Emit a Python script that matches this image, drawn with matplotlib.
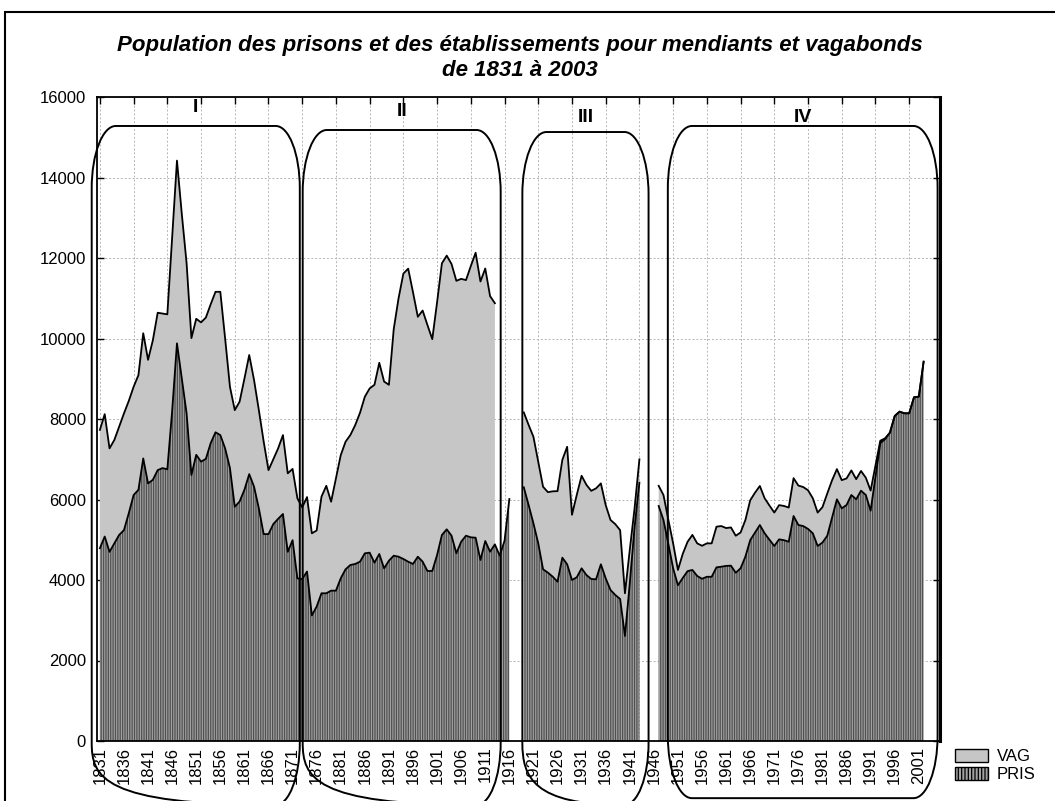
import numpy as np
import matplotlib
matplotlib.use('Agg')
import matplotlib.pyplot as plt
from matplotlib.path import Path
from matplotlib.patches import PathPatch, Patch, Rectangle

plt.rcParams['font.family'] = ['Liberation Sans', 'DejaVu Sans']
plt.rcParams['hatch.linewidth'] = 0.9

nan = np.nan
years = np.arange(1831, 2003)

# PRIS (prisons), une valeur par an, 1831-2002
pris = [
    4790, 5080, 4700, 4910, 5120, 5240, 5660, 6110, 6240, 7020,   # 1831-1840
    6400, 6490, 6730, 6780, 6750, 8200, 9880, 9000, 8140, 6610,   # 1841-1850
    7110, 6940, 7010, 7400, 7670, 7600, 7270, 6780, 5820, 5950,   # 1851-1860
    6240, 6630, 6320, 5780, 5140, 5140, 5390, 5520, 5640, 4700,   # 1861-1870
    4990, 4040, 4025, 4210, 3120, 3340, 3670, 3670, 3735, 3735,   # 1871-1880
    4042, 4266, 4373, 4398, 4455, 4663, 4679, 4430, 4646, 4290,   # 1881-1890
    4480, 4604, 4579, 4522, 4455, 4398, 4579, 4455, 4224, 4224,   # 1891-1900
    4621, 5118, 5259, 5101, 4663, 4952, 5101, 5060, 5051, 4497,   # 1901-1910
    4969, 4703, 4886, 4604, 4977, 6012, nan, nan, 6303, 5863,     # 1911-1920
    5408, 4911, 4266, 4183, 4083, 3958, 4555, 4390, 4000, 4067,   # 1921-1930
    4290, 4124, 4025, 4017, 4390, 4042, 3752, 3627, 3528, 2609,   # 1931-1940
    3918, 5325, 6418, nan, nan, nan, 5840, 5490, 4900, 4290,      # 1941-1950
    3870, 4050, 4220, 4250, 4100, 4030, 4080, 4080, 4315, 4330,   # 1951-1960
    4350, 4356, 4180, 4290, 4580, 4990, 5180, 5366, 5160, 5000,   # 1961-1970
    4845, 5010, 4990, 4950, 5590, 5366, 5340, 5270, 5160, 4845,   # 1971-1980
    4930, 5100, 5550, 6005, 5781, 5863, 6112, 6005, 6219, 6112,   # 1981-1990
    5722, 6560, 7400, 7500, 7660, 8075, 8183, 8142, 8142, 8539,   # 1991-2000
    8556, 9424,                                                   # 2001-2002
]

# VAG (mendiants et vagabonds)
vag = [
    2940, 3040, 2570, 2570, 2690, 2900, 2790, 2690, 2850, 3110,
    3070, 3470, 3910, 3840, 3850, 4300, 4540, 4100, 3730, 3400,
    3380, 3460, 3510, 3450, 3490, 3560, 2730, 2020, 2400, 2480,
    2760, 2960, 2650, 2440, 2300, 1590, 1610, 1750, 1960, 1950,
    1770, 1990, 1780, 1850, 2040, 1890, 2400, 2670, 2210, 2790,
    3060, 3170, 3230, 3450, 3700, 3890, 4080, 4420, 4750, 4640,
    4370, 5630, 6420, 7090, 7280, 6750, 5960, 6240, 6110, 5760,
    6280, 6750, 6800, 6750, 6770, 6530, 6350, 6740, 7080, 6920,
    6770, 6350, 5990, nan, nan, nan, nan, nan, 1860, 1990,
    2150, 2030, 2050, 2000, 2120, 2250, 2430, 2920, 1620, 2050,
    2300, 2240, 2190, 2260, 2010, 1820, 1740, 1760, 1710, 1060,
    830, 460, 580, nan, nan, nan, 500, 620, 600, 620,
    380, 600, 730, 870, 810, 820, 830, 830, 1010, 1010,
    940, 950, 920, 890, 910, 990, 990, 970, 870, 850,
    830, 850, 850, 850, 940, 980, 970, 960, 870, 830,
    880, 1050, 930, 750, 700, 660, 610, 500, 490, 430,
    500, 280, 60, 20, 0, 0, 0, 0, 0, 0,
    0, 0,
]

label_years = np.arange(1831, 2002, 5)
periods = ['I', 'II', 'III', 'IV']
period_start = [1829.3, 1873.1, 1918.7, 1948.9]
period_end = [1872.5, 1914.2, 1944.9, 2004.9]

pris = np.array(pris, dtype=float)
vag = np.array(vag, dtype=float)
total = pris + vag

col_pris = '#a2a2a2'
col_vag = '#c6c6c6'

fig = plt.figure(figsize=(10.55, 8.01), dpi=100)
ax = fig.add_axes([97 / 1055, 60 / 801, 843 / 1055, 644 / 801])

ax.fill_between(years, 0, pris, facecolor=col_pris, edgecolor='#505050',
                linewidth=0, hatch='|||||||', zorder=2)
ax.fill_between(years, pris, total, facecolor=col_vag, edgecolor=col_vag,
                linewidth=0, zorder=2)
ax.plot(years, pris, color='black', lw=1.3, zorder=3)
ax.plot(years, total, color='black', lw=1.3, zorder=3)

ax.set_xlim(1830.4, 2005.4)
ax.set_ylim(0, 16000)

# étiquettes tous les 5 ans, grille et repères du haut tous les 7 ans
ax.xaxis.remove_overlapping_locs = False
ax.set_xticks(label_years, [str(y) for y in label_years])
ax.set_xticks(np.arange(1831, 2005, 7), minor=True)
ax.tick_params(axis='x', which='major', bottom=True, length=0,
               labelbottom=True, labelsize=12, labelrotation=90, pad=4)
ax.tick_params(axis='x', which='minor', top=True, bottom=False,
               direction='in', length=5, width=1)
ax.set_yticks(np.arange(0, 16001, 2000))
ax.tick_params(axis='y', left=True, right=True, direction='in', length=5,
               width=1, labelsize=12, pad=8)
ax.grid(True, axis='x', which='minor', color='#b5b5b5',
        linestyle=(0, (2, 2)), lw=0.7)
ax.grid(True, axis='y', which='major', color='#b5b5b5',
        linestyle=(0, (2, 2)), lw=0.7)
ax.set_axisbelow(True)
for s in ax.spines.values():
    s.set_linewidth(1.3)
ax.spines['right'].set_linewidth(2.2)


def rounded_box(x0, x1, y0, y1, rx, ry):
    k = 0.5523
    verts = [
        (x0 + rx, y1), (x1 - rx, y1),
        (x1 - rx + k * rx, y1), (x1, y1 - ry + k * ry), (x1, y1 - ry),
        (x1, y0 + ry),
        (x1, y0 + ry - k * ry), (x1 - rx + k * rx, y0), (x1 - rx, y0),
        (x0 + rx, y0),
        (x0 + rx - k * rx, y0), (x0, y0 + ry - k * ry), (x0, y0 + ry),
        (x0, y1 - ry),
        (x0, y1 - ry + k * ry), (x0 + rx - k * rx, y1), (x0 + rx, y1),
    ]
    codes = ([Path.MOVETO, Path.LINETO] + [Path.CURVE4] * 3 + [Path.LINETO]
             + [Path.CURVE4] * 3 + [Path.LINETO] + [Path.CURVE4] * 3
             + [Path.LINETO] + [Path.CURVE4] * 3)
    return Path(verts, codes)


box_top = [15280, 15180, 15130, 15280]
box_bottom = [-1590, -1590, -1590, -1420]
label_y = [15750, 15630, 15500, 15480]
for name, a, b, t, bt, ly in zip(periods, period_start, period_end,
                                 box_top, box_bottom, label_y):
    p = PathPatch(rounded_box(a, b, bt, t, 5.0, 1550), facecolor='none',
                  edgecolor='black', lw=1.4, clip_on=False, zorder=5)
    ax.add_patch(p)
    ax.text((a + b) / 2, ly, name, ha='center', va='center',
            fontsize=14, fontweight='bold', zorder=6)

fig.text(519.5 / 1055, 1 - 58 / 801,
         'Population des prisons et des établissements pour mendiants et vagabonds\n'
         'de 1831 à 2003',
         ha='center', va='center', fontsize=16, fontweight='bold',
         fontstyle='italic', linespacing=1.2)

fig.add_artist(Rectangle((5 / 1055, -0.05), 1.2, 1 - 12 / 801 + 0.05,
                         transform=fig.transFigure, fill=False,
                         edgecolor='black', lw=1.5))

handles = [Patch(facecolor=col_vag, edgecolor='black', lw=1),
           Patch(facecolor=col_pris, edgecolor='black', lw=1, hatch='|||||')]
fig.legend(handles, ['VAG', 'PRIS'], loc='upper left',
           bbox_to_anchor=(955 / 1055, 1 - 749 / 801), frameon=False,
           fontsize=12, handlelength=2.0, handleheight=0.85,
           handletextpad=0.5, labelspacing=0.15, borderpad=0,
           borderaxespad=0)

fig.savefig('out.png', dpi=100)
